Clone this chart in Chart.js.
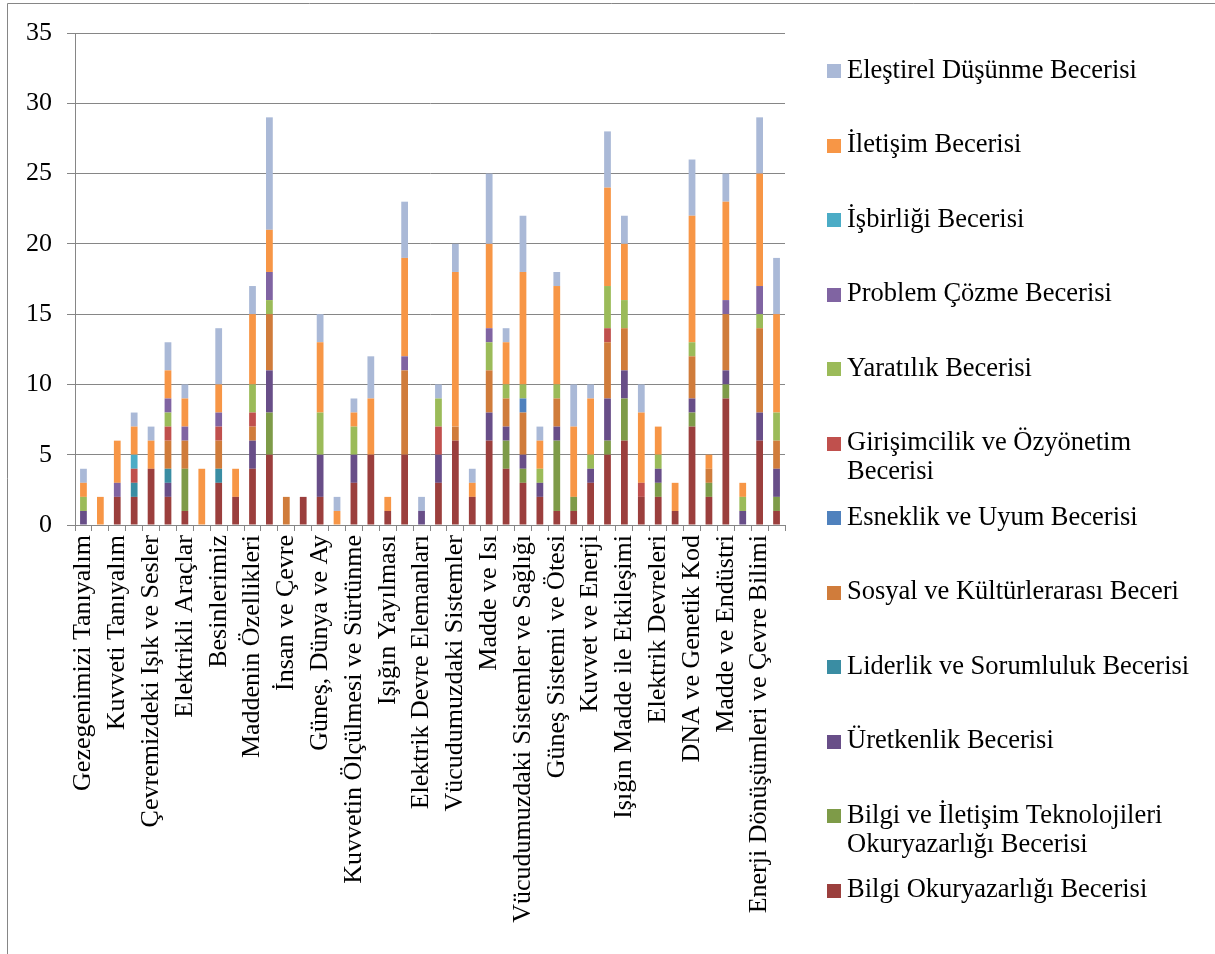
<!DOCTYPE html>
<html lang="tr">
<head>
<meta charset="utf-8">
<title>Ünitelere göre beceri dağılımı</title>
<script src="https://cdn.jsdelivr.net/npm/chart.js@4/dist/chart.umd.min.js"></script>
<style>
  html, body { margin: 0; padding: 0; background: #ffffff; }
  #wrap { width: 1215px; height: 954px; }
</style>
</head>
<body>
<div id="wrap"><canvas id="chart" width="1215" height="954"></canvas></div>
<script>
// Fen Bilimleri üniteleri (3.–8. sınıf)
const units = [
  'Gezegenimizi Tanıyalım', 'Beş Duyumuz', 'Kuvveti Tanıyalım', 'Maddeyi Tanıyalım',
  'Çevremizdeki Işık ve Sesler', 'Canlılar Dünyası', 'Elektrikli Araçlar',
  'Yer Kabuğu ve Dünyamızın Hareketleri', 'Besinlerimiz', 'Kuvvetin Etkileri',
  'Maddenin Özellikleri', 'Aydınlatma ve Ses Teknolojileri', 'İnsan ve Çevre',
  'Basit Elektrik Devreleri', 'Güneş, Dünya ve Ay', 'Canlılar Dünyası',
  'Kuvvetin Ölçülmesi ve Sürtünme', 'Madde ve Değişim', 'Işığın Yayılması',
  'İnsan ve Çevre', 'Elektrik Devre Elemanları', 'Güneş Sistemi ve Tutulmalar',
  'Vücudumuzdaki Sistemler', 'Kuvvet ve Hareket', 'Madde ve Isı', 'Ses ve Özellikleri',
  'Vücudumuzdaki Sistemler ve Sağlığı', 'Elektriğin İletimi', 'Güneş Sistemi ve Ötesi',
  'Hücre ve Bölünmeler', 'Kuvvet ve Enerji', 'Saf Madde ve Karışımlar',
  'Işığın Madde ile Etkileşimi', 'Canlılarda Üreme, Büyüme ve Gelişme', 'Elektrik Devreleri',
  'Mevsimler ve İklim', 'DNA ve Genetik Kod', 'Basınç', 'Madde ve Endüstri',
  'Basit Makineler', 'Enerji Dönüşümleri ve Çevre Bilimi', 'Elektrik Yükleri ve Elektrik Enerjisi'
];

// Beceri sayıları (ünite sırasıyla)
const bilgiOkuryazarligi = [0,0,2,2,4,2,1,0,3,2, 4,5,0,2,2,0,3,5,1,5, 0,3,6,2,6,4,3,2,1,1, 3,5,6,2,2,1,7,2,9,0, 6,1];
const bitOkuryazarligi   = [0,0,0,0,0,0,3,0,0,0, 0,3,0,0,0,0,0,0,0,0, 0,0,0,0,0,2,1,0,5,1, 0,1,3,0,1,0,1,1,1,0, 0,1];
const uretkenlik         = [1,0,0,0,0,1,0,0,0,0, 2,3,0,0,3,0,2,0,0,0, 1,2,0,0,2,1,1,1,1,0, 1,3,2,0,1,0,1,0,1,1, 2,2];
const liderlik           = [0,0,0,1,0,1,0,0,1,0, 0,0,0,0,0,0,0,0,0,0, 0,0,0,0,0,0,0,0,0,0, 0,0,0,0,0,0,0,0,0,0, 0,0];
const sosyal             = [0,0,0,0,0,2,2,0,2,0, 1,4,2,0,0,0,0,0,0,6, 0,0,1,0,3,2,3,0,2,0, 0,4,3,0,0,0,3,1,4,0, 6,2];
const esneklik           = [0,0,0,0,0,0,0,0,0,0, 0,0,0,0,0,0,0,0,0,0, 0,0,0,0,0,0,1,0,0,0, 0,0,0,0,0,0,0,0,0,0, 0,0];
const girisimcilik       = [0,0,0,1,0,1,0,0,1,0, 1,0,0,0,0,0,0,0,0,0, 0,2,0,0,0,0,0,0,0,0, 0,1,0,1,0,0,0,0,0,0, 0,0];
const yaraticilik        = [1,0,0,0,0,1,0,0,0,0, 2,1,0,0,3,0,2,0,0,0, 0,2,0,0,2,1,1,1,1,0, 1,3,2,0,1,0,1,0,0,1, 1,2];
const problemCozme       = [0,0,1,0,0,1,1,0,1,0, 0,2,0,0,0,0,0,0,0,1, 0,0,0,0,1,0,0,0,0,0, 0,0,0,0,0,0,0,0,1,0, 2,0];
const isbirligi          = [0,0,0,1,0,0,0,0,0,0, 0,0,0,0,0,0,0,0,0,0, 0,0,0,0,0,0,0,0,0,0, 0,0,0,0,0,0,0,0,0,0, 0,0];
const iletisim           = [1,2,3,2,2,2,2,4,2,2, 5,3,0,0,5,1,1,4,1,7, 0,0,11,1,6,3,8,2,7,5, 4,7,4,5,2,2,9,1,7,1, 8,7];
const elestirelDusunme   = [1,0,0,1,1,2,1,0,4,0, 2,8,0,0,2,1,1,3,0,4, 1,1,2,1,5,1,4,1,1,3, 1,4,2,2,0,0,4,0,2,0, 4,4];

const seriesNames = [
  'Bilgi Okuryazarlığı Becerisi',
  'Bilgi ve İletişim Teknolojileri Okuryazarlığı Becerisi',
  'Üretkenlik Becerisi',
  'Liderlik ve Sorumluluk Becerisi',
  'Sosyal ve Kültürlerarası Beceri',
  'Esneklik ve Uyum Becerisi',
  'Girişimcilik ve Özyönetim Becerisi',
  'Yaratılık Becerisi',
  'Problem Çözme Becerisi',
  'İşbirliği Becerisi',
  'İletişim Becerisi',
  'Eleştirel Düşünme Becerisi'
];
const seriesValues = [
  bilgiOkuryazarligi, bitOkuryazarligi, uretkenlik, liderlik, sosyal, esneklik,
  girisimcilik, yaraticilik, problemCozme, isbirligi, iletisim, elestirelDusunme
];
const seriesColors = [
  '#9B3F3D', '#7E9B48', '#684E88', '#3A8DA3', '#D07C3B', '#4F81BD',
  '#C0504D', '#9BBB59', '#8064A2', '#4BACC6', '#F79646', '#AAB9D7'
];

const FONT = "'Liberation Serif', 'Times New Roman', serif";
const AXIS_GREY = '#868686';

// Çerçeve ve sağdaki açıklama kutusu
const frameAndLegend = {
  id: 'frameAndLegend',
  afterDraw(chart) {
    const ctx = chart.ctx;
    ctx.save();
    ctx.strokeStyle = AXIS_GREY;
    ctx.lineWidth = 1;
    ctx.beginPath();
    ctx.moveTo(7.5, chart.height);
    ctx.lineTo(7.5, 3.5);
    ctx.lineTo(chart.width, 3.5);
    ctx.stroke();

    ctx.font = '26.5px ' + FONT;
    ctx.fillStyle = '#000000';
    ctx.textBaseline = 'middle';
    ctx.textAlign = 'left';
    const boxX = 827, textX = 847, firstY = 71, slot = 74.5, lineH = 29, maxW = 362;
    const sets = chart.data.datasets;
    for (let k = 0; k < sets.length; k++) {
      const ds = sets[sets.length - 1 - k];
      const cy = firstY + slot * k;
      ctx.fillStyle = ds.backgroundColor;
      ctx.fillRect(boxX, Math.round(cy - 7), 14, 14);
      // satır kaydırma
      const words = ds.label.split(' ');
      const lines = [];
      let cur = '';
      for (const w of words) {
        const test = cur ? cur + ' ' + w : w;
        if (ctx.measureText(test).width > maxW && cur) { lines.push(cur); cur = w; }
        else cur = test;
      }
      lines.push(cur);
      ctx.fillStyle = '#000000';
      lines.forEach((ln, j) => ctx.fillText(ln, textX, cy + j * lineH));
    }
    ctx.restore();
  }
};

new Chart(document.getElementById('chart'), {
  type: 'bar',
  data: {
    labels: units,
    datasets: seriesNames.map((name, i) => ({
      label: name,
      data: seriesValues[i],
      backgroundColor: seriesColors[i],
      borderWidth: 0,
      barPercentage: 0.4,
      categoryPercentage: 1.0
    }))
  },
  options: {
    responsive: false,
    animation: false,
    layout: { padding: { top: 33, right: 430, bottom: 0, left: 0 } },
    plugins: {
      legend: { display: false },
      tooltip: { enabled: false }
    },
    scales: {
      x: {
        stacked: true,
        offset: true,
        afterFit(scale) { scale.height = 429; },
        border: { color: AXIS_GREY, width: 1 },
        grid: {
          offset: true,
          drawOnChartArea: false,
          drawTicks: true,
          tickLength: 6,
          color: AXIS_GREY
        },
        ticks: {
          autoSkip: false,
          maxRotation: 90,
          minRotation: 90,
          padding: 4,
          color: '#000000',
          font: { family: FONT, size: 26 },
          callback(value, index) {
            return index % 2 === 0 ? this.getLabelForValue(value) : '';
          }
        }
      },
      y: {
        stacked: true,
        min: 0,
        max: 35,
        afterFit(scale) { scale.width = 75; },
        border: { color: AXIS_GREY, width: 1 },
        grid: { color: AXIS_GREY, tickLength: 8, lineWidth: 1 },
        ticks: {
          stepSize: 5,
          padding: 15,
          color: '#000000',
          font: { family: FONT, size: 26 }
        }
      }
    }
  },
  plugins: [frameAndLegend]
});
</script>
</body>
</html>
